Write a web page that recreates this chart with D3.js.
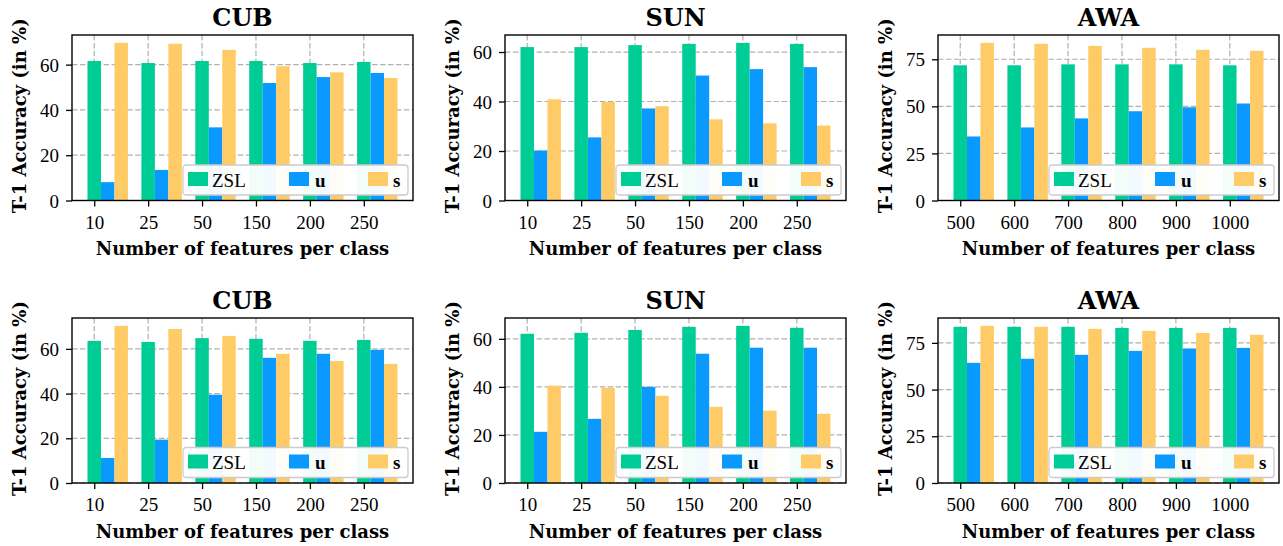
<!DOCTYPE html>
<html><head><meta charset="utf-8">
<script src="https://cdn.jsdelivr.net/npm/d3@7"></script>
<style>
html,body{margin:0;padding:0;background:#fff;}
svg{display:block;}
</style></head>
<body>
<svg id="chart" width="1283" height="546"></svg>
<script>
// ---------- DATA ----------
const catsCUB = ["10","25","50","150","200","250"];
const catsSUN = ["10","25","50","150","200","250"];
const catsAWA = ["500","600","700","800","900","1000"];
const seriesNames = ["ZSL","u","s"];
const ticksCUBSUN = [0,20,40,60];
const ticksAWA = [0,25,50,75];
const titles = ["CUB","SUN","AWA"];

const cubTopZSL = [61.6, 60.7, 61.6, 61.6, 60.7, 61.2];
const cubTopU   = [8.1, 13.5, 32.3, 51.9, 54.5, 56.3];
const cubTopS   = [69.6, 69.2, 66.5, 59.3, 56.6, 54.1];

const sunTopZSL = [62.0, 62.0, 62.8, 63.3, 63.7, 63.3];
const sunTopU   = [20.2, 25.5, 37.2, 50.5, 53.1, 53.9];
const sunTopS   = [40.9, 39.8, 38.1, 32.8, 31.2, 30.3];

const awaTopZSL = [71.8, 71.8, 72.3, 72.3, 72.3, 71.8];
const awaTopU   = [34.0, 38.8, 43.6, 47.4, 49.5, 51.5];
const awaTopS   = [83.7, 83.2, 82.1, 81.1, 80.0, 79.5];

const cubBotZSL = [63.6, 63.1, 64.8, 64.5, 63.6, 64.0];
const cubBotU   = [11.2, 19.4, 39.5, 56.0, 57.8, 59.6];
const cubBotS   = [70.3, 68.9, 65.8, 57.8, 54.6, 53.3];

const sunBotZSL = [62.1, 62.5, 63.7, 65.0, 65.4, 64.6];
const sunBotU   = [21.3, 26.7, 40.0, 53.8, 56.3, 56.3];
const sunBotS   = [40.5, 39.6, 36.3, 31.7, 30.1, 28.8];

const awaBotZSL = [83.6, 83.6, 83.6, 83.0, 83.0, 83.0];
const awaBotU   = [64.3, 66.5, 68.6, 70.7, 72.0, 72.3];
const awaBotS   = [84.1, 83.6, 82.5, 81.4, 80.3, 79.3];

// ---------- STYLE / LAYOUT ----------
const colors = {ZSL:"#00CC96", u:"#0A99FF", s:"#FECB66"};
const colLefts = [72, 505, 938];
const axW = 341;
const rowTops = [35, 318];
const axH = [165.5, 165];
const serif = "'Liberation Serif', serif";
const boldSerif = "'DejaVu Serif', serif";

const panels = [
  {row:0,col:0,title:titles[0],cats:catsCUB,ticks:ticksCUBSUN,vals:[cubTopZSL,cubTopU,cubTopS]},
  {row:0,col:1,title:titles[1],cats:catsSUN,ticks:ticksCUBSUN,vals:[sunTopZSL,sunTopU,sunTopS]},
  {row:0,col:2,title:titles[2],cats:catsAWA,ticks:ticksAWA,vals:[awaTopZSL,awaTopU,awaTopS]},
  {row:1,col:0,title:titles[0],cats:catsCUB,ticks:ticksCUBSUN,vals:[cubBotZSL,cubBotU,cubBotS]},
  {row:1,col:1,title:titles[1],cats:catsSUN,ticks:ticksCUBSUN,vals:[sunBotZSL,sunBotU,sunBotS]},
  {row:1,col:2,title:titles[2],cats:catsAWA,ticks:ticksAWA,vals:[awaBotZSL,awaBotU,awaBotS]},
];

const svg = d3.select("#chart");
const barW = 0.25;

panels.forEach(p => {
  const L = colLefts[p.col], T = rowTops[p.row], H = axH[p.row], W = axW;
  const g = svg.append("g").attr("transform", `translate(${L},${T})`);
  const n = p.cats.length;
  const lo = -barW/2, hi = (n-1) + 2*barW + barW/2;
  const m = (hi-lo)*0.05;
  const x = d3.scaleLinear().domain([lo-m, hi+m]).range([0, W]);
  const ymax = d3.max(p.vals.flat())*1.05;
  const y = d3.scaleLinear().domain([0, ymax]).range([H, 0]);

  // grid
  const grid = g.append("g");
  grid.selectAll("line.h").data(p.ticks).join("line")
    .attr("x1",0).attr("x2",W).attr("y1",d=>y(d)).attr("y2",d=>y(d))
    .attr("stroke","#b0b0b0").attr("stroke-width",1.2).attr("stroke-dasharray","5.5,2.4");
  grid.selectAll("line.v").data(d3.range(n)).join("line")
    .attr("y1",0).attr("y2",H).attr("x1",d=>x(d)).attr("x2",d=>x(d))
    .attr("stroke","#b0b0b0").attr("stroke-width",1.2).attr("stroke-dasharray","5.5,2.4");

  // bars
  seriesNames.forEach((s, si) => {
    g.append("g").selectAll("rect").data(p.vals[si]).join("rect")
      .attr("x", (d,i) => x(i + si*barW - barW/2))
      .attr("width", (d,i) => x(i + si*barW + barW/2) - x(i + si*barW - barW/2))
      .attr("y", d => y(d))
      .attr("height", d => H - y(d))
      .attr("fill", colors[s]);
  });

  // axes
  const yAxis = d3.axisLeft(y).tickValues(p.ticks).tickSize(6).tickPadding(7);
  const ya = g.append("g").call(yAxis);
  const xAxis = d3.axisBottom(x).tickValues(d3.range(n)).tickFormat(i => p.cats[i]).tickSize(6).tickPadding(8);
  const xa = g.append("g").attr("transform",`translate(0,${H})`).call(xAxis);
  [ya, xa].forEach(a => {
    a.select(".domain").remove();
    a.selectAll(".tick line").attr("stroke","#000").attr("stroke-width",1.3);
    a.selectAll(".tick text").attr("fill","#000").style("font-family",serif).style("font-size","19px");
  });
  ya.selectAll(".tick text").attr("dy","0.35em");
  xa.selectAll(".tick text").attr("dy","0.75em");

  // spines
  g.append("rect").attr("x",0).attr("y",0).attr("width",W).attr("height",H)
    .attr("fill","none").attr("stroke","#000").attr("stroke-width",1.4);

  // legend
  const lw = 225, lh = 30;
  const lg = g.append("g").attr("transform",`translate(${W-5-lw},${H-5.5-lh})`);
  lg.append("rect").attr("width",lw).attr("height",lh).attr("rx",3).attr("ry",3)
    .attr("fill","#fff").attr("fill-opacity",0.95).attr("stroke","#cccccc").attr("stroke-width",1.3);
  const patchX = [5, 106, 185];
  const textX = [29, 132, 210];
  seriesNames.forEach((s, si) => {
    lg.append("rect").attr("x",patchX[si]).attr("y",7).attr("width",20).attr("height",14).attr("fill",colors[s]);
    lg.append("text").attr("x",textX[si]).attr("y",21.5).text(s)
      .style("font-family",serif).style("font-size","19px")
      .style("font-weight", si===0 ? "normal" : "bold").attr("fill","#000");
  });

  // title
  svg.append("text").attr("x",L+W/2).attr("y",T-9.5).attr("text-anchor","middle")
    .text(p.title).style("font-family",boldSerif).style("font-weight","bold").style("font-size","24px");
  // x label
  svg.append("text").attr("x",L+W/2).attr("y",T+H+54.5).attr("text-anchor","middle")
    .text("Number of features per class").style("font-family",boldSerif).style("font-weight","bold").style("font-size","18px");
  // y label
  svg.append("text").attr("transform",`translate(${L-52.5+6},${T+H/2-2}) rotate(-90)`)
    .attr("text-anchor","middle")
    .text("T-1 Accuracy (in %)").style("font-family",boldSerif).style("font-weight","bold").style("font-size","18px");
});
</script>
</body></html>
